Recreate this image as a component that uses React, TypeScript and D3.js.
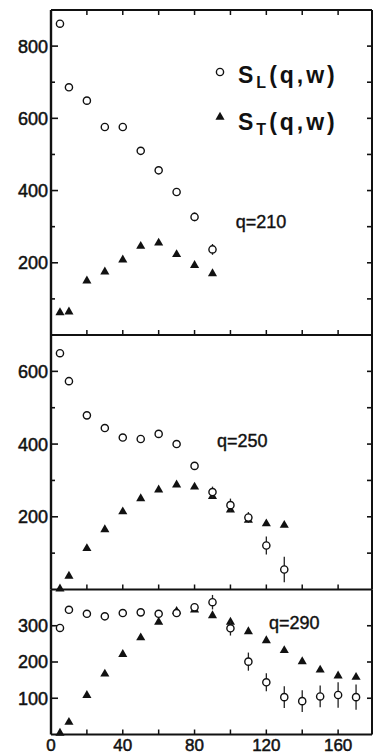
import React from 'react';
import * as d3 from 'd3';

// energy transfer w (x axis), shared by all panels
const wValues = [5, 10, 20, 30, 40, 50, 60, 70, 80, 90, 100, 110, 120, 130, 140, 150, 160, 170];

// q = 210
const sL210 = [862, 686, 649, 576, 576, 510, 456, 396, 327, 237];
const sL210Err = [0, 0, 0, 0, 0, 0, 0, 8, 12, 15];
const sT210 = [62, 64, 150, 175, 208, 246, 255, 223, 193, 170];

// q = 250
const sL250 = [650, 573, 479, 444, 418, 414, 428, 400, 340, 268, 232, 198, 121, 55];
const sL250Err = [0, 0, 0, 0, 0, 0, 6, 10, 10, 15, 18, 15, 25, 35];
const sT250 = [2, 37, 113, 165, 214, 250, 274, 288, 282, 256, 219, 191, 181, 177];

// q = 290
const sL290 = [294, 344, 333, 326, 335, 337, 333, 335, 351, 365, 293, 201, 144, 103, 92, 105, 109, 103];
const sL290Err = [0, 0, 0, 0, 0, 0, 0, 8, 10, 20, 20, 25, 25, 30, 30, 30, 35, 35];
const sT290 = [4, 34, 108, 167, 221, 267, 310, 340, 344, 328, 310, 284, 259, 232, 201, 178, 162, 158];

const xTickValues = [0, 20, 40, 60, 80, 100, 120, 140, 160];
const xTickLabels = [0, 40, 80, 120, 160];

const W = 374;
const H = 755;
const FONT = '"Liberation Sans", Arial, sans-serif';

interface Panel {
  label: string;
  sL: number[];
  sLErr: number[];
  sT: number[];
  yMax: number;
  yLabels: number[];
  top: number;
  bottom: number;
  labelAt: [number, number];
}

const panels: Panel[] = [
  { label: 'q=210', sL: sL210, sLErr: sL210Err, sT: sT210, yMax: 900, yLabels: [200, 400, 600, 800], top: 10, bottom: 335, labelAt: [103, 296] },
  { label: 'q=250', sL: sL250, sLErr: sL250Err, sT: sT250, yMax: 700, yLabels: [200, 400, 600], top: 335, bottom: 589.5, labelAt: [92.5, 392] },
  { label: 'q=290', sL: sL290, sLErr: sL290Err, sT: sT290, yMax: 400, yLabels: [100, 200, 300], top: 589.5, bottom: 734.5, labelAt: [121.5, 291] },
];

const left = 51;
const right = 372;

const x = d3.scaleLinear().domain([0, 180]).range([left, 374]);
const tri = d3.symbol().type(d3.symbolTriangle).size(36);

const PanelView: React.FC<{ p: Panel; first: boolean }> = ({ p, first }) => {
  const y = d3.scaleLinear().domain([0, p.yMax]).range([p.bottom, p.top]);
  const minor = d3.range(100, p.yMax, 100);
  return (
    <g>
      {/* y ticks, left and right */}
      {minor.map(v => (
        <g key={'yt' + v}>
          <line x1={left} x2={left + (p.yLabels.includes(v) ? 7 : 4)} y1={y(v)} y2={y(v)} stroke="#111" strokeWidth={1.6} />
          <line x1={right} x2={right - 5} y1={y(v)} y2={y(v)} stroke="#111" strokeWidth={1.6} />
        </g>
      ))}
      {p.yLabels.map(v => (
        <text key={'yl' + v} x={left - 3} y={y(v)} dy="0.36em" textAnchor="end" fontSize={18}
          fontFamily={FONT} fill="#111" stroke="#111" strokeWidth={0.5}>{v}</text>
      ))}
      {/* x ticks, inward */}
      {xTickValues.filter(v => v > 0).map(v => (
        <g key={'xt' + v}>
          <line x1={x(v)} x2={x(v)} y1={p.bottom} y2={p.bottom - 5} stroke="#111" strokeWidth={1.5} />
          {first && <line x1={x(v)} x2={x(v)} y1={p.top} y2={p.top + 5} stroke="#111" strokeWidth={1.5} />}
        </g>
      ))}
      {/* frame lines */}
      <line x1={left} x2={right} y1={p.bottom} y2={p.bottom} stroke="#111" strokeWidth={2} />
      {first && <line x1={left} x2={right} y1={p.top} y2={p.top} stroke="#111" strokeWidth={2} />}
      <line x1={left} x2={left} y1={p.top} y2={p.bottom} stroke="#111" strokeWidth={2.4} />
      <line x1={right} x2={right} y1={p.top} y2={p.bottom} stroke="#111" strokeWidth={2} />

      {/* transverse */}
      {p.sT.map((v, i) => (
        <path key={'t' + i} d={tri() as string} transform={`translate(${x(wValues[i])},${y(v)})`} fill="#111" />
      ))}
      {/* longitudinal with error bars */}
      {p.sL.map((v, i) => (
        <g key={'l' + i}>
          {p.sLErr[i] > 0 && (
            <line x1={x(wValues[i])} x2={x(wValues[i])} y1={y(v - p.sLErr[i])} y2={y(v + p.sLErr[i])} stroke="#222" strokeWidth={1.3} />
          )}
          <circle cx={x(wValues[i])} cy={y(v)} r={3.6} fill="#fff" stroke="#111" strokeWidth={1.4} />
        </g>
      ))}
      <text x={x(p.labelAt[0])} y={y(p.labelAt[1])} fontSize={18} fontFamily={FONT} fill="#111" stroke="#111" strokeWidth={0.4}>{p.label}</text>
    </g>
  );
};

export default function App() {
  const bottom = panels[panels.length - 1].bottom;
  return (
    <svg width={W} height={H} viewBox={`0 0 ${W} ${H}`}
      style={{ position: 'absolute', left: 0, top: 0, background: '#fff' }}>
      {panels.map((p, i) => <PanelView key={p.label} p={p} first={i === 0} />)}
      {xTickLabels.map(v => (
        <text key={'xl' + v} x={x(v)} y={bottom + 16.5} textAnchor="middle" fontSize={17}
          fontFamily={FONT} fill="#111" stroke="#111" strokeWidth={0.5}>{v}</text>
      ))}
      {/* legend */}
      <g fontFamily={FONT} fontWeight="bold" fill="#111">
        <circle cx={220} cy={72} r={3.6} fill="#fff" stroke="#111" strokeWidth={1.4} />
        <text x={238} y={83} fontSize={23} letterSpacing={3}>
          S<tspan fontSize={16} dy={5}>L</tspan><tspan dy={-5}>(q,w)</tspan>
        </text>
        <path d={tri() as string} transform="translate(220,117)" fill="#111" />
        <text x={238} y={130} fontSize={23} letterSpacing={3}>
          S<tspan fontSize={16} dy={5}>T</tspan><tspan dy={-5}>(q,w)</tspan>
        </text>
      </g>
    </svg>
  );
}
